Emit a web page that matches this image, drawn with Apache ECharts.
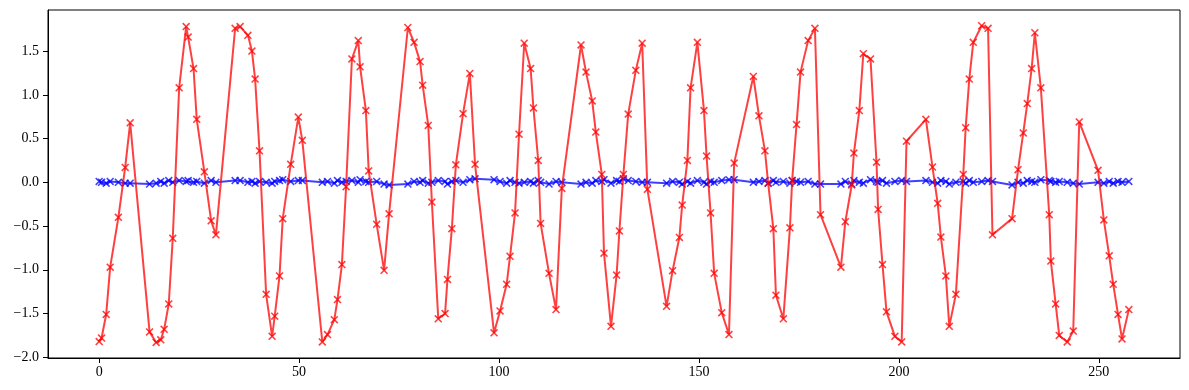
<!DOCTYPE html>
<html>
<head>
<meta charset="utf-8">
<script src="https://cdn.jsdelivr.net/npm/echarts@6/dist/echarts.min.js"></script>
<style>html,body{margin:0;padding:0;background:#fff}#c{width:1189px;height:390px}</style>
</head>
<body>
<div id="c"></div>
<script>
const xs = [0,0.6,1.75,2.75,4.8,6.5,7.75,12.6,14.25,15.4,
16.25,17.4,18.4,20,21.75,22.25,23.6,24.4,26.3,28,
29.2,34,35.25,37.2,38.2,39,40.1,41.75,43.25,43.9,
45.1,45.9,47.9,49.8,50.8,55.8,57.1,58.8,59.6,60.7,
61.75,63.2,64.8,65.25,66.7,67.4,69.4,71.25,72.5,77.2,
78.75,80.25,80.9,82.3,83.2,84.8,86.5,87.1,88.2,89.2,
91,92.7,94,98.75,100.25,101.9,102.75,104,105,106.3,
107.9,108.6,109.8,110.4,112.5,114.25,115.7,120.5,121.75,123.3,
124.2,125.7,126.25,128,129.4,130.1,131.1,132.3,134.2,135.8,
137.1,141.9,143.4,145.1,145.8,147.1,147.9,149.6,151.25,151.9,
152.9,153.8,155.7,157.5,158.8,163.6,165,166.5,167.3,168.6,
169.25,171.1,172.75,173.3,174.4,175.4,177.3,179,180.4,185.5,
186.6,188.2,188.75,190.1,191.1,192.9,194.4,194.8,195.9,196.9,
199,200.7,201.9,206.75,208.4,209.7,210.5,211.75,212.6,214.25,
216.1,216.7,217.6,218.6,220.7,222.3,223.4,228.3,229.8,231.1,
232.1,233.2,234,235.5,237.6,238,239.2,240.1,242.1,243.6,
245.1,249.8,251.25,252.6,253.6,254.8,255.8,257.5];

const redVals = [-1.82,-1.78,-1.51,-0.97,-0.40,0.17,0.68,-1.71,-1.83,-1.80,
-1.68,-1.39,-0.64,1.08,1.78,1.66,1.30,0.72,0.12,-0.44,
-0.60,1.76,1.78,1.68,1.50,1.18,0.36,-1.28,-1.76,-1.53,
-1.07,-0.415,0.206,0.746,0.48,-1.825,-1.74,-1.57,-1.34,-0.94,
-0.05,1.41,1.62,1.32,0.82,0.13,-0.48,-1.006,-0.36,1.77,
1.60,1.38,1.11,0.65,-0.225,-1.56,-1.50,-1.11,-0.53,0.20,
0.785,1.245,0.206,-1.72,-1.47,-1.166,-0.846,-0.35,0.55,1.59,
1.30,0.85,0.25,-0.47,-1.04,-1.455,-0.07,1.57,1.26,0.93,
0.575,0.09,-0.81,-1.646,-1.06,-0.556,0.09,0.78,1.28,1.59,
-0.08,-1.417,-1.01,-0.63,-0.26,0.25,1.08,1.60,0.82,0.30,
-0.35,-1.04,-1.49,-1.74,0.22,1.21,0.76,0.36,-0.01,-0.53,
-1.29,-1.56,-0.52,0.02,0.66,1.26,1.62,1.76,-0.37,-0.97,
-0.45,-0.03,0.335,0.82,1.47,1.41,0.23,-0.31,-0.94,-1.48,
-1.76,-1.825,0.47,0.72,0.175,-0.24,-0.625,-1.07,-1.646,-1.28,
0.09,0.625,1.18,1.60,1.79,1.76,-0.60,-0.415,0.145,0.565,
0.90,1.30,1.71,1.08,-0.37,-0.90,-1.39,-1.75,-1.825,-1.70,
0.69,0.137,-0.43,-0.84,-1.166,-1.51,-1.79,-1.455];

const blueVals = [0.01,0.0,-0.01,0.01,0.0,-0.01,-0.01,-0.02,-0.01,0.01,
-0.01,0.02,0.0,0.02,0.01,0.02,0.0,0.01,-0.01,0.02,
0.0,0.02,0.02,0.0,0.01,-0.01,0.01,0.0,-0.01,0.01,
0.02,0.03,0.01,0.02,0.02,0.0,0.01,-0.01,0.02,0.0,
0.01,0.02,0.0,0.03,0.01,0.0,0.01,-0.02,-0.03,-0.02,
0.01,0.0,0.02,-0.01,0.0,0.02,0.01,-0.02,0.01,0.02,
0.0,0.03,0.04,0.03,0.01,-0.01,0.02,0.0,-0.01,0.0,
0.01,-0.01,0.02,0.0,-0.02,0.01,0.0,-0.02,0.0,-0.01,
0.02,0.01,0.03,-0.01,0.02,0.01,0.04,0.02,0.01,0.0,
0.0,-0.01,0.01,0.0,-0.02,0.01,-0.01,0.02,0.0,-0.02,
0.01,0.0,0.02,0.03,0.03,0.0,0.01,0.02,-0.01,0.02,
0.0,0.01,-0.01,0.02,0.01,0.0,0.01,-0.02,-0.02,-0.02,
0.01,-0.02,0.02,0.0,-0.01,0.03,0.01,0.0,0.02,-0.01,
0.01,0.02,0.01,0.02,0.0,-0.01,0.02,0.01,-0.02,0.0,
0.01,-0.01,0.02,0.0,0.01,0.02,0.01,-0.03,0.0,-0.01,
0.02,0.01,0.0,0.03,0.02,0.01,0.0,0.01,0.0,-0.01,
-0.02,0.0,-0.01,0.01,-0.01,0.01,0.0,0.01];

const xTicks = [0,50,100,150,200,250];
const yTicks = [-2.0,-1.5,-1.0,-0.5,0.0,0.5,1.0,1.5];

const xMark = 'path://M0,1.4 L1.4,0 L10,8.6 L8.6,10 Z M8.6,0 L10,1.4 L1.4,10 L0,8.6 Z';
const font = '"Liberation Serif", "DejaVu Serif", serif';

function pairs(ys){ return xs.map((x,i)=>[x, ys[i]]); }

const chart = echarts.init(document.getElementById('c'), null, {renderer:'canvas'});
chart.setOption({
  animation:false,
  backgroundColor:'#fff',
  grid:{left:48, right:9, top:10, bottom:32, show:true, borderColor:'#000', borderWidth:1, backgroundColor:'transparent'},
  xAxis:{
    type:'value', min:-12.8, max:270.3,
    axisLine:{show:true, onZero:false, lineStyle:{color:'#000', width:1}},
    axisTick:{show:true, inside:false, length:5, lineStyle:{color:'#000', width:1}, customValues:xTicks},
    axisLabel:{color:'#000', fontFamily:font, fontSize:14, margin:7, customValues:xTicks, formatter:v=>String(v)},
    splitLine:{show:false}
  },
  yAxis:{
    type:'value', min:-2.008, max:1.970,
    axisLine:{show:true, onZero:false, lineStyle:{color:'#000', width:1}},
    axisTick:{show:true, inside:false, length:5, lineStyle:{color:'#000', width:1}, customValues:yTicks},
    axisLabel:{color:'#000', fontFamily:font, fontSize:14, margin:9, customValues:yTicks,
      formatter:v=>(v<0?'\u2212':'')+Math.abs(v).toFixed(1)},
    splitLine:{show:false}
  },
  series:[
    {
      type:'line', name:'blue', data:pairs(blueVals),
      symbol:xMark, symbolSize:8, showAllSymbol:true,
      lineStyle:{color:'#0000ff', width:2, opacity:0.75},
      itemStyle:{color:'#0000ff', opacity:0.75},
      z:2
    },
    {
      type:'line', name:'red', data:pairs(redVals),
      symbol:xMark, symbolSize:8, showAllSymbol:true,
      lineStyle:{color:'#ff0000', width:2, opacity:0.75},
      itemStyle:{color:'#ff0000', opacity:0.75},
      z:3
    }
  ]
});
</script>
</body>
</html>
